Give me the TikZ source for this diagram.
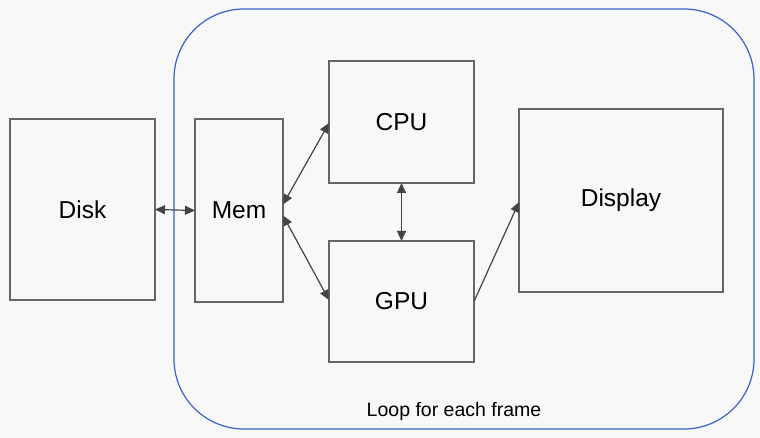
\documentclass[tikz,border=0pt]{standalone}
\usepackage{fontspec}
\setmainfont{Liberation Sans}
\usetikzlibrary{arrows.meta}
\definecolor{bg}{HTML}{F8F8F8}
\definecolor{boxline}{HTML}{666666}
\definecolor{arr}{HTML}{444444}
\definecolor{loopblue}{HTML}{3F5FCB}
\begin{document}
\begin{tikzpicture}[x=1pt,y=-1pt,
  blk/.style={draw=boxline, line width=1.2pt, fill=none, inner sep=0pt, outer sep=0pt,
    font=\fontsize{24.5}{28}\selectfont, text=black},
  conn/.style={draw=arr, line width=1.2pt, {Triangle[length=10pt,width=9pt]}-{Triangle[length=10pt,width=9pt]}},
  oneway/.style={draw=arr, line width=1.2pt, -{Triangle[length=10pt,width=9pt]}}]
\fill[bg] (0,0) rectangle (760,438);
\useasboundingbox (0,0) rectangle (760,438);
\draw[loopblue, line width=1.2pt, rounded corners=70pt] (174,9) rectangle (754,429);
\node[font=\fontsize{19.5}{23}\selectfont] (loop) at (454,411) {Loop for each frame};
\node[blk, minimum width=145pt, minimum height=181pt] (disk) at (82.5,209.5) {Disk};
\node[blk, minimum width=88pt, minimum height=183pt] (mem) at (239,210.5) {Mem};
\node[blk, minimum width=145pt, minimum height=122pt] (cpu) at (401.5,122) {CPU};
\node[blk, minimum width=145pt, minimum height=121pt] (gpu) at (401.5,301.5) {GPU};
\node[blk, minimum width=204pt, minimum height=183pt] (disp) at (621,200.5) {Display};
\draw[conn] (disk.east) -- (mem.west);
\draw[conn] ([yshift=6pt]mem.east) -- ([yshift=-1pt]cpu.west);
\draw[conn] ([yshift=-5pt]mem.east) -- ([yshift=1.5pt]gpu.west);
\draw[conn] (cpu.south) -- (gpu.north);
\draw[oneway] (gpu.east) -- ([yshift=-1.5pt]disp.west);
\end{tikzpicture}
\end{document}
